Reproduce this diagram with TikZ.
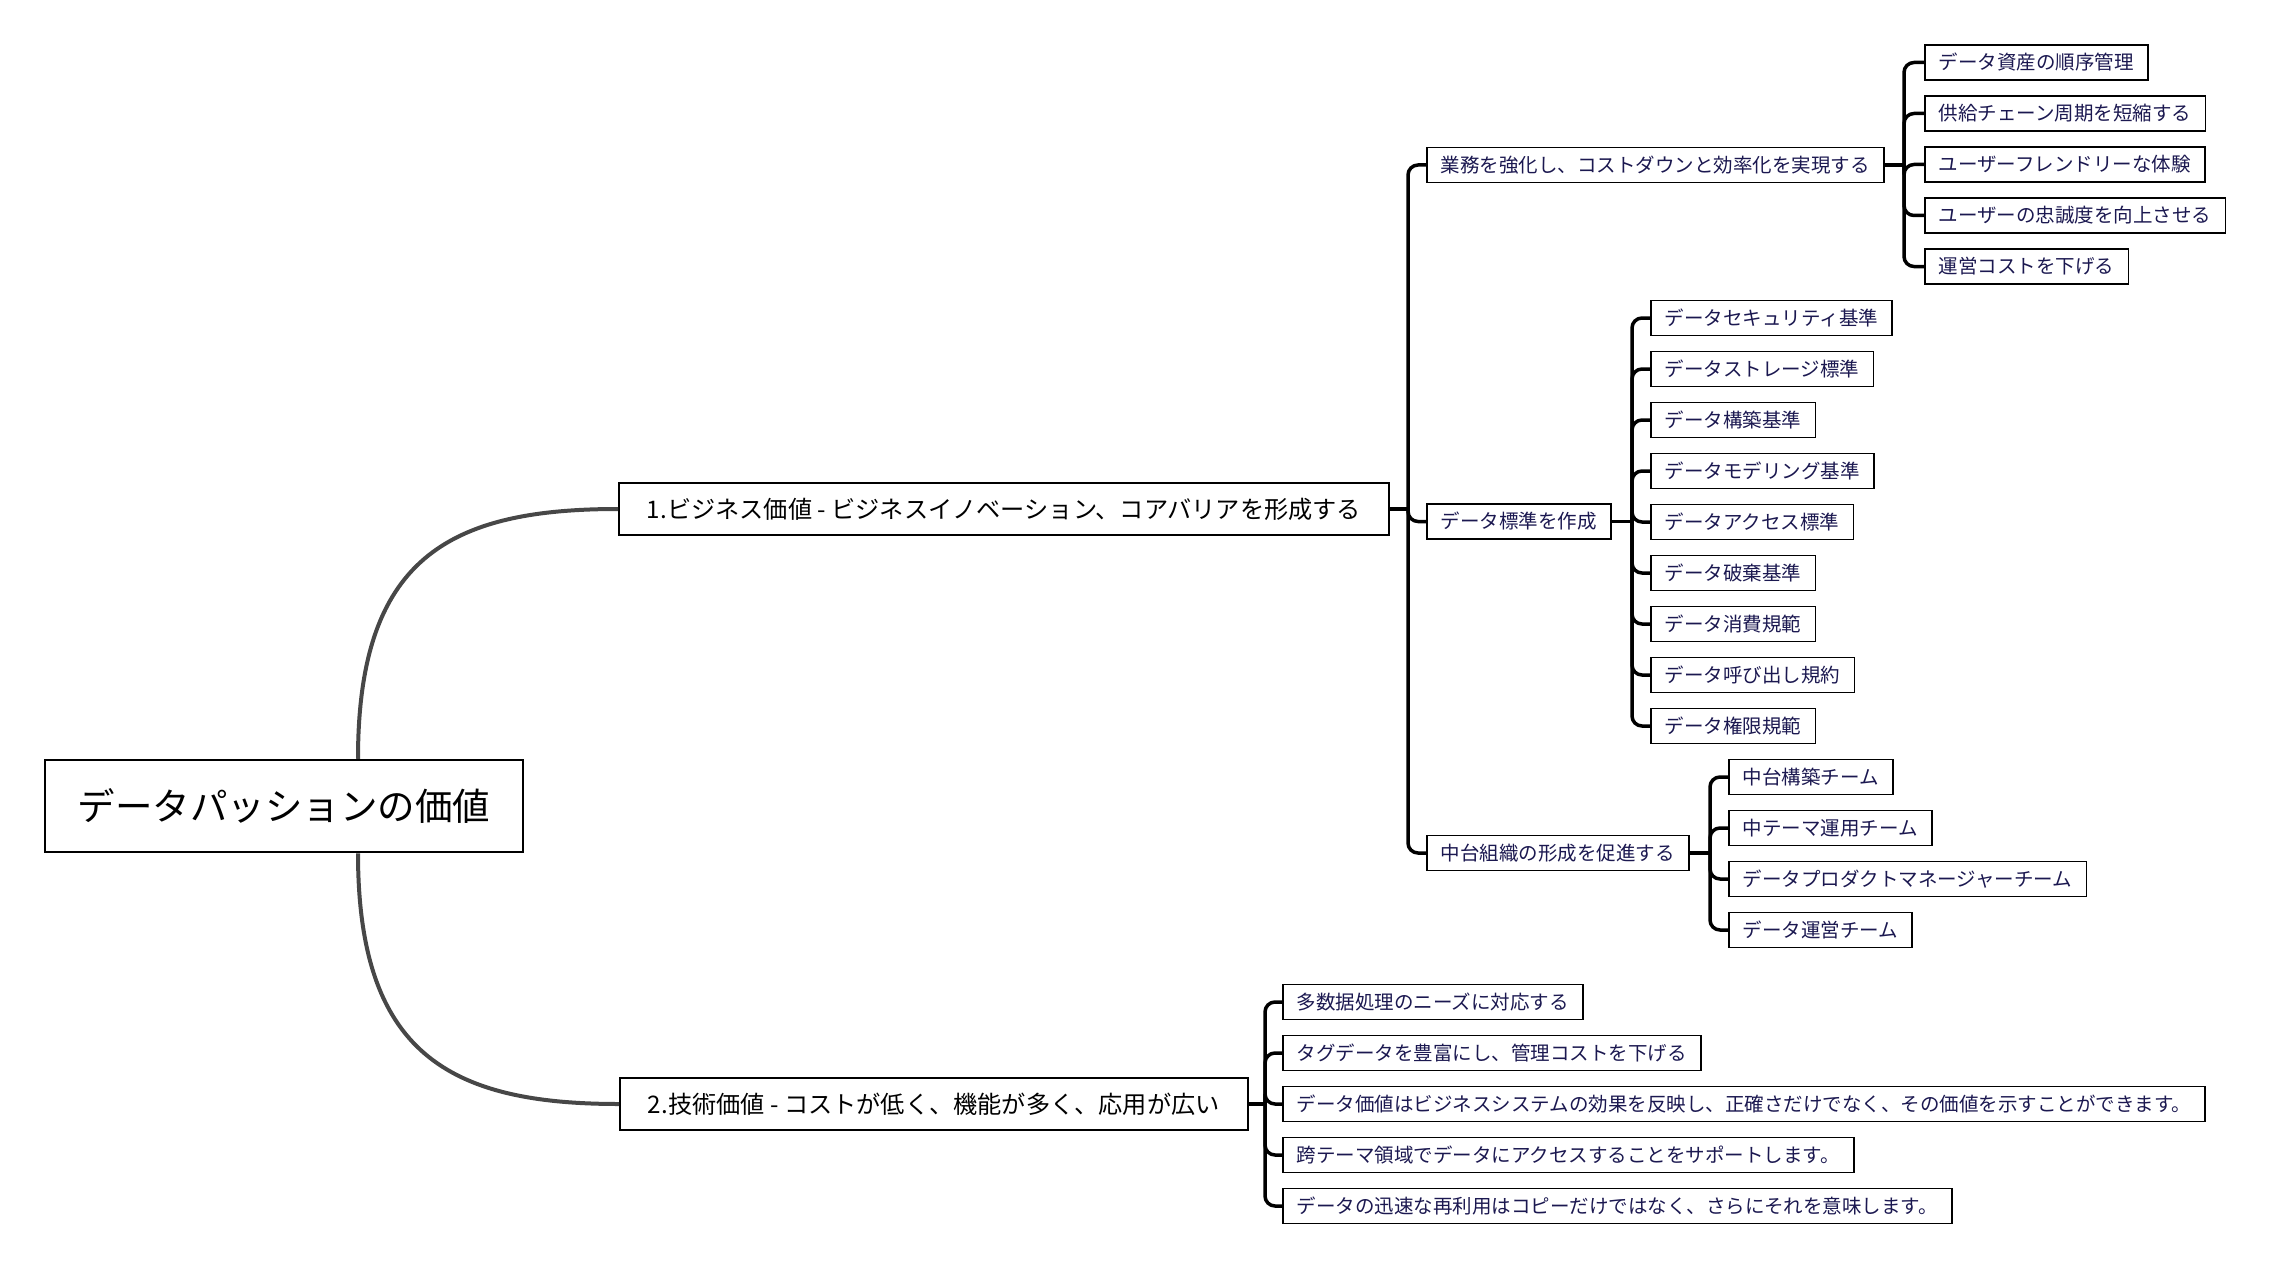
\documentclass[tikz,border=0pt]{standalone}
\usepackage{fontspec}
\newfontfamily\jpfont{Noto Sans CJK JP}
\usetikzlibrary{positioning}
\definecolor{ink}{HTML}{1B1850}
\definecolor{trunk}{HTML}{474747}

\begin{document}
\begin{tikzpicture}[
  x=1pt, y=1pt,
  node distance=14.4pt,
  rootbox/.style={rectangle, draw, line width=2.5pt, minimum width=478pt, minimum height=92pt, font=\jpfont\fontsize{37.5}{45}\selectfont},
  branch/.style={rectangle, draw, line width=1.8pt, anchor=west, minimum height=52pt, inner xsep=28pt, font=\jpfont\fontsize{24.2}{29}\selectfont},
  topic/.style={rectangle, draw, line width=1.6pt, anchor=west, minimum height=35pt, inner xsep=14pt, text=ink, font=\jpfont\fontsize{19.5}{23}\selectfont},
  leaf/.style={topic},
  curve/.style={draw=trunk, line width=4pt},
  link/.style={draw, line width=3.5pt, rounded corners=10pt},
]
\useasboundingbox (0,0) rectangle (2273,-1284);

\node[rootbox] (root) at (284,-806) {データパッションの価値};
\node[branch] (b1) at (618,-509) {1.ビジネス価値 - ビジネスイノベーション、コアバリアを形成する};
\node[branch] (b2) at (619,-1104) {2.技術価値 - コストが低く、機能が多く、応用が広い};

\node[topic] (sub1) at (1426,-165) {業務を強化し、コストダウンと効率化を実現する};
\node[topic] (sub2) at (1426,-521.5) {データ標準を作成};
\node[topic] (sub3) at (1426,-853) {中台組織の形成を促進する};

% group 1
\node[leaf] (l11) at (1924,-62.5) {データ資産の順序管理};
\node[leaf, below=of l11.south west, anchor=north west] (l12) {供給チェーン周期を短縮する};
\node[leaf, below=of l12.south west, anchor=north west] (l13) {ユーザーフレンドリーな体験};
\node[leaf, below=of l13.south west, anchor=north west] (l14) {ユーザーの忠誠度を向上させる};
\node[leaf, below=of l14.south west, anchor=north west] (l15) {運営コストを下げる};

% group 2
\node[leaf] (l21) at (1650,-318) {データセキュリティ基準};
\node[leaf, below=of l21.south west, anchor=north west] (l22) {データストレージ標準};
\node[leaf, below=of l22.south west, anchor=north west] (l23) {データ構築基準};
\node[leaf, below=of l23.south west, anchor=north west] (l24) {データモデリング基準};
\node[leaf, below=of l24.south west, anchor=north west] (l25) {データアクセス標準};
\node[leaf, below=of l25.south west, anchor=north west] (l26) {データ破棄基準};
\node[leaf, below=of l26.south west, anchor=north west] (l27) {データ消費規範};
\node[leaf, below=of l27.south west, anchor=north west] (l28) {データ呼び出し規約};
\node[leaf, below=of l28.south west, anchor=north west] (l29) {データ権限規範};

% group 3
\node[leaf] (l31) at (1728,-777) {中台構築チーム};
\node[leaf, below=of l31.south west, anchor=north west] (l32) {中テーマ運用チーム};
\node[leaf, below=of l32.south west, anchor=north west] (l33) {データプロダクトマネージャーチーム};
\node[leaf, below=of l33.south west, anchor=north west] (l34) {データ運営チーム};

% group 4
\node[leaf] (l41) at (1282,-1002) {多数据処理のニーズに対応する};
\node[leaf, below=of l41.south west, anchor=north west] (l42) {タグデータを豊富にし、管理コストを下げる};
\node[leaf, below=of l42.south west, anchor=north west] (l43) {データ価値はビジネスシステムの効果を反映し、正確さだけでなく、その価値を示すことができます。};
\node[leaf, below=of l43.south west, anchor=north west] (l44) {跨テーマ領域でデータにアクセスすることをサポートします。};
\node[leaf, below=of l44.south west, anchor=north west] (l45) {データの迅速な再利用はコピーだけではなく、さらにそれを意味します。};

\coordinate (j0) at (1408,-509);
\coordinate (j1) at (1904,-165);
\coordinate (j2) at (1632,-521.5);
\coordinate (j3) at (1710,-853);
\coordinate (j4) at (1265,-1104);

\draw[curve] ([xshift=74pt]root.north) .. controls +(0,200) and +(-170,0) .. (b1.west);
\draw[curve] ([xshift=74pt]root.south) .. controls +(0,-200) and +(-170,0) .. (b2.west);

\draw[link] (b1.east) -- (j0);
\draw[link] (j0) |- (sub1.west);
\draw[link] (j0) |- (sub2.west);
\draw[link] (j0) |- (sub3.west);

\draw[link] (sub1.east) -- (j1);
\draw[link] (j1) |- (l11.west);
\draw[link] (j1) |- (l12.west);
\draw[link] (j1) |- (l13.west);
\draw[link] (j1) |- (l14.west);
\draw[link] (j1) |- (l15.west);

\draw[link] (sub2.east) -- (j2);
\draw[link] (j2) |- (l21.west);
\draw[link] (j2) |- (l22.west);
\draw[link] (j2) |- (l23.west);
\draw[link] (j2) |- (l24.west);
\draw[link] (j2) |- (l25.west);
\draw[link] (j2) |- (l26.west);
\draw[link] (j2) |- (l27.west);
\draw[link] (j2) |- (l28.west);
\draw[link] (j2) |- (l29.west);

\draw[link] (sub3.east) -- (j3);
\draw[link] (j3) |- (l31.west);
\draw[link] (j3) |- (l32.west);
\draw[link] (j3) |- (l33.west);
\draw[link] (j3) |- (l34.west);

\draw[link] (b2.east) -- (j4);
\draw[link] (j4) |- (l41.west);
\draw[link] (j4) |- (l42.west);
\draw[link] (j4) |- (l43.west);
\draw[link] (j4) |- (l44.west);
\draw[link] (j4) |- (l45.west);
\end{tikzpicture}
\end{document}
